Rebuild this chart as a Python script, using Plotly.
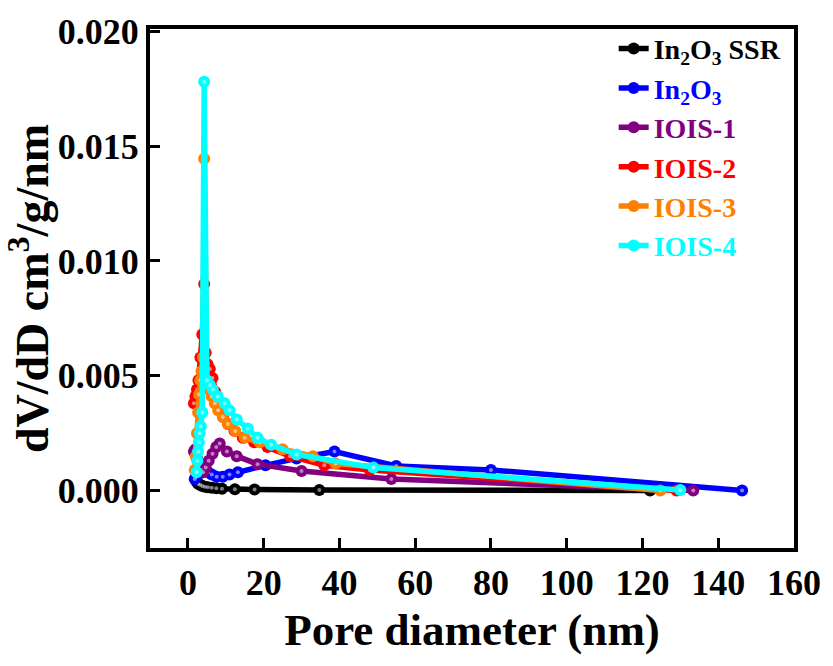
import plotly.graph_objects as go

# ---- data ----
names = ["In<sub>2</sub>O<sub>3</sub> SSR", "In<sub>2</sub>O<sub>3</sub>", "IOIS-1", "IOIS-2", "IOIS-3", "IOIS-4"]
colors = ["#000000", "#0000FF", "#800080", "#FF0000", "#FF8000", "#00FFFF"]

ssr_x = [2.3, 2.7, 3.2, 3.8, 4.5, 5.3, 6.3, 7.5, 9.0, 12.4, 17.6, 34.7, 122.0]
ssr_y = [0.0004, 0.0003, 0.00025, 0.0002, 0.00017, 0.00014, 0.00012, 0.0001, 0.00008, 0.00006, 0.00005, 0.00003, 0.0]

in_x = [1.8, 2.2, 2.7, 3.2, 3.8, 4.5, 5.3, 6.3, 7.6, 9.2, 11.0, 13.2, 20.5, 28.7, 38.7, 55.0, 80.0, 146.3]
in_y = [0.0005, 0.0006, 0.0007, 0.0008, 0.0009, 0.0009, 0.0008, 0.0007, 0.0006, 0.0006, 0.0007, 0.0008, 0.0011, 0.0014, 0.0017, 0.00107, 0.0009, 0.0]

i1_x = [1.6, 2.0, 2.4, 2.9, 3.4, 4.0, 4.7, 5.5, 6.5, 7.5, 8.4, 10.3, 12.9, 18.4, 30.0, 53.7, 133.4]
i1_y = [0.0017, 0.0018, 0.0014, 0.0011, 0.0009, 0.0008, 0.001, 0.0013, 0.0016, 0.0019, 0.00205, 0.0017, 0.0015, 0.00115, 0.00085, 0.0005, 0.0]

i2_x = [1.6, 2.0, 2.4, 2.8, 3.3, 3.8, 4.3, 4.7, 5.2, 5.8, 6.5, 7.2, 8.2, 9.3, 10.6, 12.3, 14.5, 17.5, 21.0, 27.0, 36.0, 48.0, 129.0]
i2_y = [0.0038, 0.0041, 0.0044, 0.0048, 0.0058, 0.0068, 0.0090, 0.0060, 0.0055, 0.0053, 0.0049, 0.0043, 0.0037, 0.0032, 0.0029, 0.0026, 0.0023, 0.0021, 0.0019, 0.0015, 0.0011, 0.0009, 0.0]

i3_x = [1.8, 2.1, 2.4, 2.7, 3.0, 3.3, 3.6, 4.0, 4.3, 5.0, 5.6, 6.3, 7.1, 8.0, 9.2, 10.6, 12.5, 15.0, 19.0, 25.0, 33.0, 39.0, 124.7]
i3_y = [0.0009, 0.0015, 0.0025, 0.0034, 0.0042, 0.0048, 0.0052, 0.0058, 0.01445, 0.0047, 0.0044, 0.0041, 0.0038, 0.0035, 0.0032, 0.0029, 0.0026, 0.0023, 0.0021, 0.0018, 0.0015, 0.00118, 0.0]

i4_x = [2.3, 2.5, 2.7, 2.9, 3.1, 3.4, 3.8, 4.3, 5.0, 5.8, 6.6, 7.9, 9.7, 11.0, 12.9, 15.8, 18.4, 22.0, 28.7, 49.0, 130.0]
i4_y = [0.0008, 0.0013, 0.0017, 0.0021, 0.0025, 0.0028, 0.0034, 0.0178, 0.0048, 0.0046, 0.0044, 0.0041, 0.0038, 0.0035, 0.0031, 0.0027, 0.0023, 0.0020, 0.00157, 0.0010, 0.00003]

series_x = [ssr_x, in_x, i1_x, i2_x, i3_x, i4_x]
series_y = [ssr_y, in_y, i1_y, i2_y, i3_y, i4_y]

x_ticks = [0, 20, 40, 60, 80, 100, 120, 140, 160]
y_ticks = [0.000, 0.005, 0.010, 0.015, 0.020]

FONT = "Liberation Serif"

fig = go.Figure()
for i, (nm, c, xs, ys) in enumerate(zip(names, colors, series_x, series_y)):
    fig.add_trace(go.Scatter(
        x=xs, y=ys, mode="lines+markers",
        name=f"<span style='color:{c}'>{nm}</span>",
        legendgroup=f"g{i}",
        line=dict(color=c, width=5.5),
        marker=dict(color=c, size=12, symbol="circle"),
    ))
    fig.add_trace(go.Scatter(
        x=xs, y=ys, mode="markers", showlegend=False, hoverinfo="skip",
        legendgroup=f"g{i}",
        marker=dict(color="rgba(255,255,255,0.5)", size=4),
    ))

axis_common = dict(
    showline=True, linewidth=4, linecolor="black", mirror=True,
    ticks="inside", ticklen=10, tickwidth=3, tickcolor="black",
    showgrid=False, zeroline=False,
    tickfont=dict(family=FONT, size=36, color="black", weight="bold"),
)

fig.update_layout(
    width=833, height=666,
    margin=dict(l=150, r=36, t=20, b=118),
    paper_bgcolor="white", plot_bgcolor="white",
    showlegend=True,
    legend=dict(
        x=0.72, y=1.01, xanchor="left", yanchor="top",
        bgcolor="rgba(0,0,0,0)", borderwidth=0,
        font=dict(family=FONT, size=28, color="black", weight="bold"),
        traceorder="grouped", tracegroupgap=0,
    ),
    xaxis=dict(
        range=[-10, 160], tickvals=x_ticks,
        title=dict(text="Pore diameter (nm)", standoff=12,
                   font=dict(family=FONT, size=45, color="black", weight="bold")),
        **axis_common,
    ),
    yaxis=dict(
        range=[-0.0025, 0.0201], tickvals=y_ticks, tickformat=".3f",
        title=dict(text="dV/dD cm<sup>3</sup>/g/nm", standoff=10,
                   font=dict(family=FONT, size=46, color="black", weight="bold")),
        **axis_common,
    ),
)

fig.write_html("out.html")
